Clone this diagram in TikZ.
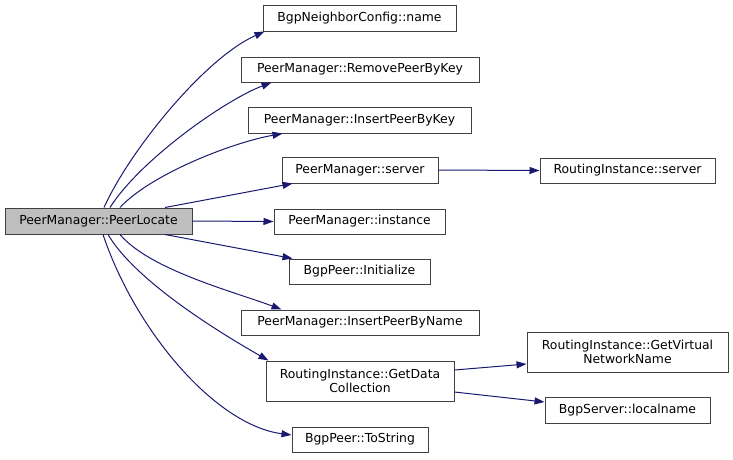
\documentclass[tikz,border=0pt]{standalone}
\usepackage{fontspec}
\setmainfont{DejaVu Sans}
\usetikzlibrary{arrows.meta}
\definecolor{edgeblue}{HTML}{191970}
\definecolor{boxline}{HTML}{404040}
\definecolor{mainfill}{HTML}{BFBFBF}
\begin{document}
\begin{tikzpicture}[x=1pt,y=-1pt,
  box/.style={draw=boxline,line width=1pt,fill=white,inner sep=0pt,align=center,
    font=\fontsize{12.4}{14.7}\selectfont},
  edge/.style={draw=edgeblue,line width=1pt,-{Triangle[length=10pt,width=7pt]}}]
\useasboundingbox (0,0) rectangle (733,459);
\node[box,fill=mainfill,minimum width=187pt,minimum height=26pt] (main) at (98.5,221) {PeerManager::PeerLocate};
\node[box,minimum width=193pt,minimum height=26pt] (name) at (359.5,18) {BgpNeighborConfig::name};
\node[box,minimum width=238pt,minimum height=25pt] (remove) at (360,69.5) {PeerManager::RemovePeerByKey};
\node[box,minimum width=223pt,minimum height=26pt] (ipbk) at (359.5,120) {PeerManager::InsertPeerByKey};
\node[box,minimum width=156pt,minimum height=26pt] (pmserver) at (360,170) {PeerManager::server};
\node[box,minimum width=171pt,minimum height=25pt] (instance) at (359.5,221.5) {PeerManager::instance};
\node[box,minimum width=141pt,minimum height=25pt] (init) at (359.5,271.5) {BgpPeer::Initialize};
\node[box,minimum width=238pt,minimum height=25pt] (ipbn) at (360,322.5) {PeerManager::InsertPeerByName};
\node[box,minimum width=188pt,minimum height=40pt] (gdc) at (360,381) {RoutingInstance::GetData\\Collection};
\node[box,minimum width=136pt,minimum height=25pt] (tostring) at (360,439.5) {BgpPeer::ToString};
\node[box,minimum width=175pt,minimum height=25pt] (riserver) at (627.5,170.5) {RoutingInstance::server};
\node[box,minimum width=201pt,minimum height=40pt] (gvn) at (627.5,352) {RoutingInstance::GetVirtual\\NetworkName};
\node[box,minimum width=165pt,minimum height=26pt] (localname) at (627.5,410) {BgpServer::localname};

\draw[edge] ([xshift=5.5pt]main.north) .. controls (130,150) and (205,58) .. ([xshift=2pt]name.south west);
\draw[edge] ([xshift=11.5pt]main.north) .. controls (140,160) and (225,100) .. ([xshift=31pt]remove.south west);
\draw[edge] ([xshift=21.5pt]main.north) .. controls (150,175) and (230,143) .. ([xshift=35pt]ipbk.south west);
\draw[edge] ([xshift=66.5pt]main.north) -- ([xshift=11pt]pmserver.south west);
\draw[edge] (main.east) -- (instance.west);
\draw[edge] ([xshift=66.5pt]main.south) -- ([xshift=4pt]init.north west);
\draw[edge] ([xshift=21.5pt]main.south) .. controls (150,270) and (235,292) .. ([xshift=41pt]ipbn.north west);
\draw[edge] ([xshift=9.5pt]main.south) .. controls (135,280) and (215,330) .. ([xshift=3pt]gdc.north west);
\draw[edge] ([xshift=4.5pt]main.south) .. controls (135,330) and (215,425) .. ([yshift=4.5pt]tostring.west);
\draw[edge] (pmserver.east) -- (riserver.west);
\draw[edge] ([yshift=11pt]gdc.east) -- ([yshift=-12pt]gvn.west);
\draw[edge] ([yshift=-11pt]gdc.east) -- ([yshift=8pt]localname.west);
\end{tikzpicture}
\end{document}
